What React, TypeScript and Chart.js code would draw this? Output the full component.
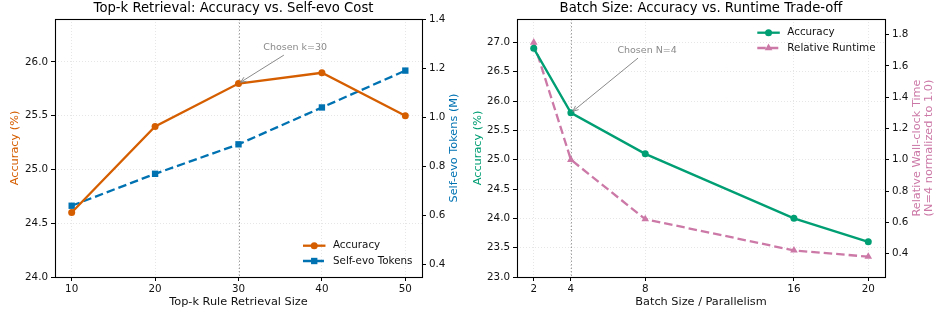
import React, { useEffect, useRef } from 'react';
import { Chart, registerables } from 'chart.js';

Chart.register(...registerables);

// ---------- data ----------
const topKSizes = [10, 20, 30, 40, 50];
const topKAccuracy = [24.6, 25.4, 25.8, 25.9, 25.5];
const topKTokens = [0.64, 0.77, 0.89, 1.04, 1.19];
const topKAccTicks = [24.0, 24.5, 25.0, 25.5, 26.0];
const topKTokenTicks = [0.4, 0.6, 0.8, 1.0, 1.2, 1.4];

const batchSizes = [2, 4, 8, 16, 20];
const batchAccuracy = [26.9, 25.8, 25.1, 24.0, 23.6];
const batchRuntime = [1.75, 1.0, 0.62, 0.42, 0.38];
const batchAccTicks = [23.0, 23.5, 24.0, 24.5, 25.0, 25.5, 26.0, 26.5, 27.0];
const batchRuntimeTicks = [0.4, 0.6, 0.8, 1.0, 1.2, 1.4, 1.6, 1.8];

const topKChosen = { x: 30, y: 25.8, textX: 36.8, textY: 26.13, text: 'Chosen k=30' };
const batchChosen = { x: 4, y: 25.8, textX: 8.1, textY: 26.86, text: 'Chosen N=4' };

// ---------- style ----------
const FONT = "'DejaVu Sans', sans-serif";
const TICK_SIZE = 10.35;
const LABEL_SIZE = 11.3;
const TITLE_SIZE = 13.2;
const GRID_COLOR = '#e0e0e0';

const ORANGE = '#D55E00';
const BLUE = '#0072B2';
const GREEN = '#009E73';
const PINK = '#CC79A7';

const LINE_W = 2.3;
const DASH = [8.5, 4];

type Spec = {
  title: string;
  xs: number[];
  xMin: number;
  xMax: number;
  xTitle: string;
  leftTitle: string;
  leftColor: string;
  leftMin: number;
  leftMax: number;
  leftTicks: number[];
  rightTitle: string[];
  rightColor: string;
  rightMin: number;
  rightMax: number;
  rightTicks: number[];
  series: { label: string; data: number[]; axis: 'yL' | 'yR'; color: string; dash: number[]; point: string; radius: number }[];
  chosen: { x: number; y: number; textX: number; textY: number; text: string };
  legendPos: 'lower right' | 'upper right';
  leftWidth: number;
  rightWidth: number;
  leftTitleOffset: number;
  rightTitleOffsets: number[];
};

function drawMarker(ctx: CanvasRenderingContext2D, style: string, x: number, y: number, r: number, color: string) {
  ctx.save();
  ctx.fillStyle = color;
  ctx.strokeStyle = color;
  ctx.setLineDash([]);
  ctx.beginPath();
  if (style === 'rect') {
    const s = Math.SQRT1_2 * r;
    ctx.rect(x - s, y - s, 2 * s, 2 * s);
  } else if (style === 'triangle') {
    ctx.moveTo(x, y - r);
    ctx.lineTo(x + r * 0.866, y + r * 0.5);
    ctx.lineTo(x - r * 0.866, y + r * 0.5);
    ctx.closePath();
  } else {
    ctx.arc(x, y, r, 0, Math.PI * 2);
  }
  ctx.fill();
  ctx.restore();
}

function makePlugin(spec: Spec) {
  return {
    id: 'decor',
    beforeDatasetsDraw(chart: any) {
      const { ctx, chartArea } = chart;
      const xs = chart.scales.x;
      const vx = xs.getPixelForValue(spec.chosen.x);
      ctx.save();
      ctx.strokeStyle = 'rgba(128,128,128,0.75)';
      ctx.lineWidth = 1;
      ctx.setLineDash([1.5, 2]);
      ctx.beginPath();
      ctx.moveTo(Math.round(vx) + 0.5, chartArea.top);
      ctx.lineTo(Math.round(vx) + 0.5, chartArea.bottom);
      ctx.stroke();
      ctx.restore();
    },
    afterDatasetsDraw(chart: any) {
      const { ctx, chartArea } = chart;
      const xs = chart.scales.x;
      const yl = chart.scales.yL;
      // frame
      ctx.save();
      ctx.strokeStyle = '#000';
      ctx.lineWidth = 1.1;
      ctx.setLineDash([]);
      ctx.strokeRect(Math.round(chartArea.left) + 0.5, Math.round(chartArea.top) + 0.5,
        Math.round(chartArea.right) - Math.round(chartArea.left), Math.round(chartArea.bottom) - Math.round(chartArea.top));
      ctx.restore();

      // annotation
      const px = xs.getPixelForValue(spec.chosen.x);
      const py = yl.getPixelForValue(spec.chosen.y);
      const tx = xs.getPixelForValue(spec.chosen.textX);
      const ty = yl.getPixelForValue(spec.chosen.textY);
      ctx.save();
      ctx.font = `9.5px ${FONT}`;
      ctx.fillStyle = '#8a8a8a';
      ctx.textAlign = 'center';
      ctx.textBaseline = 'middle';
      ctx.fillText(spec.chosen.text, tx, ty);
      const tw = ctx.measureText(spec.chosen.text).width;
      const hw = tw / 2 + 1;
      const hh = 5.5;
      let dx = px - tx, dy = py - ty;
      const len = Math.hypot(dx, dy);
      dx /= len; dy /= len;
      const tEdge = Math.min(Math.abs(dx) > 1e-6 ? hw / Math.abs(dx) : 1e9, Math.abs(dy) > 1e-6 ? hh / Math.abs(dy) : 1e9);
      const sx = tx + dx * (tEdge + 3), sy = ty + dy * (tEdge + 3);
      const ex = px - dx * 2.5, ey = py - dy * 2.5;
      ctx.strokeStyle = '#8a8a8a';
      ctx.lineWidth = 1;
      ctx.beginPath();
      ctx.moveTo(sx, sy);
      ctx.lineTo(ex, ey);
      const ang = Math.atan2(dy, dx);
      const hl = 6, ha = 0.42;
      ctx.moveTo(ex - hl * Math.cos(ang - ha), ey - hl * Math.sin(ang - ha));
      ctx.lineTo(ex, ey);
      ctx.lineTo(ex - hl * Math.cos(ang + ha), ey - hl * Math.sin(ang + ha));
      ctx.stroke();
      ctx.restore();

      // legend
      ctx.save();
      ctx.font = `${TICK_SIZE}px ${FONT}`;
      ctx.textBaseline = 'middle';
      ctx.textAlign = 'left';
      const maxW = Math.max(...spec.series.map((s) => ctx.measureText(s.label).width));
      const textX = chartArea.right - 9.5 - maxW;
      const lineX1 = textX - 7.5;
      const lineX0 = lineX1 - 22.5;
      const rowH = 15.3;
      const firstY = spec.legendPos === 'lower right'
        ? chartArea.bottom - 16 - rowH * (spec.series.length - 1)
        : chartArea.top + 13.7;
      spec.series.forEach((s, i) => {
        const y = firstY + i * rowH;
        ctx.strokeStyle = s.color;
        ctx.lineWidth = LINE_W;
        ctx.setLineDash(s.dash);
        ctx.beginPath();
        ctx.moveTo(lineX0, y);
        ctx.lineTo(lineX1, y);
        ctx.stroke();
        drawMarker(ctx, s.point, (lineX0 + lineX1) / 2, y, s.radius, s.color);
        ctx.fillStyle = '#111';
        ctx.fillText(s.label, textX, y);
      });
      ctx.restore();

      // axis titles
      ctx.save();
      ctx.textAlign = 'center';
      ctx.textBaseline = 'middle';
      ctx.font = `${LABEL_SIZE}px ${FONT}`;
      ctx.fillStyle = '#111';
      ctx.fillText(spec.xTitle, (chartArea.left + chartArea.right) / 2, chartArea.bottom + 25.5);
      const cy = (chartArea.top + chartArea.bottom) / 2;
      ctx.save();
      ctx.translate(chartArea.left - spec.leftTitleOffset, cy);
      ctx.rotate(-Math.PI / 2);
      ctx.fillStyle = spec.leftColor;
      ctx.fillText(spec.leftTitle, 0, 0);
      ctx.restore();
      spec.rightTitle.forEach((line, i) => {
        ctx.save();
        ctx.translate(chartArea.right + spec.rightTitleOffsets[i], cy);
        ctx.rotate(-Math.PI / 2);
        ctx.fillStyle = spec.rightColor;
        ctx.fillText(line, 0, 0);
        ctx.restore();
      });
      ctx.restore();
    },
  };
}

function makeConfig(spec: Spec): any {
  const tickFont = { family: FONT, size: TICK_SIZE };
  return {
    type: 'line',
    data: {
      datasets: spec.series.map((s) => ({
        label: s.label,
        data: spec.xs.map((x, i) => ({ x, y: s.data[i] })),
        yAxisID: s.axis,
        borderColor: s.color,
        backgroundColor: s.color,
        borderWidth: LINE_W,
        borderDash: s.dash,
        pointStyle: s.point,
        pointRadius: s.radius,
        pointBorderWidth: 0,
        pointBackgroundColor: s.color,
        tension: 0,
        fill: false,
      })),
    },
    options: {
      responsive: false,
      animation: false,
      devicePixelRatio: 1,
      layout: { padding: 0 },
      plugins: {
        legend: { display: false },
        tooltip: { enabled: false },
        title: {
          display: true,
          text: spec.title,
          color: '#000',
          font: { family: FONT, size: TITLE_SIZE, weight: 'normal', lineHeight: 1.2 },
          padding: { top: 0.6, bottom: 2.56 },
        },
      },
      scales: {
        x: {
          type: 'linear',
          min: spec.xMin,
          max: spec.xMax,
          afterBuildTicks: (s: any) => { s.ticks = spec.xs.map((v) => ({ value: v })); },
          afterFit: (s: any) => { s.height = 36; },
          ticks: { font: tickFont, color: '#111', padding: 2, maxRotation: 0, autoSkip: false, callback: (v: any) => String(v) },
          grid: { color: GRID_COLOR, lineWidth: 0.8, tickLength: 4, tickColor: '#000', tickWidth: 1 },
          border: { display: false, dash: [1, 2] },
        },
        yL: {
          type: 'linear',
          position: 'left',
          min: spec.leftMin,
          max: spec.leftMax,
          afterBuildTicks: (s: any) => { s.ticks = spec.leftTicks.map((v) => ({ value: v })); },
          afterFit: (s: any) => { s.width = spec.leftWidth; },
          ticks: { font: tickFont, color: '#111', padding: 3, autoSkip: false, callback: (v: any) => Number(v).toFixed(1) },
          grid: { color: GRID_COLOR, lineWidth: 0.8, tickLength: 4, tickColor: '#000', tickWidth: 1 },
          border: { display: false, dash: [1, 2] },
        },
        yR: {
          type: 'linear',
          position: 'right',
          min: spec.rightMin,
          max: spec.rightMax,
          afterBuildTicks: (s: any) => { s.ticks = spec.rightTicks.map((v) => ({ value: v })); },
          afterFit: (s: any) => { s.width = spec.rightWidth; },
          ticks: { font: tickFont, color: '#111', padding: 3, autoSkip: false, callback: (v: any) => Number(v).toFixed(1) },
          grid: { drawOnChartArea: false, color: '#000', tickLength: 4, tickColor: '#000', tickWidth: 1 },
          border: { display: false },
        },
      },
    },
    plugins: [makePlugin(spec)],
  };
}

const leftSpec: Spec = {
  title: 'Top-k Retrieval: Accuracy vs. Self-evo Cost',
  xs: topKSizes,
  xMin: 8,
  xMax: 52,
  xTitle: 'Top-k Rule Retrieval Size',
  leftTitle: 'Accuracy (%)',
  leftColor: ORANGE,
  leftMin: 24.0,
  leftMax: 26.4,
  leftTicks: topKAccTicks,
  rightTitle: ['Self-evo Tokens (M)'],
  rightColor: BLUE,
  rightMin: 0.35,
  rightMax: 1.4,
  rightTicks: topKTokenTicks,
  series: [
    { label: 'Accuracy', data: topKAccuracy, axis: 'yL', color: ORANGE, dash: [], point: 'circle', radius: 3.5 },
    { label: 'Self-evo Tokens', data: topKTokens, axis: 'yR', color: BLUE, dash: DASH, point: 'rect', radius: 4.5 },
  ],
  chosen: topKChosen,
  legendPos: 'lower right',
  leftWidth: 55,
  rightWidth: 45,
  leftTitleOffset: 40,
  rightTitleOffsets: [32],
};

const rightSpec: Spec = {
  title: 'Batch Size: Accuracy vs. Runtime Trade-off',
  xs: batchSizes,
  xMin: 1.1,
  xMax: 20.9,
  xTitle: 'Batch Size / Parallelism',
  leftTitle: 'Accuracy (%)',
  leftColor: GREEN,
  leftMin: 23.0,
  leftMax: 27.4,
  leftTicks: batchAccTicks,
  rightTitle: ['Relative Wall-clock Time', '(N=4 normalized to 1.0)'],
  rightColor: PINK,
  rightMin: 0.25,
  rightMax: 1.9,
  rightTicks: batchRuntimeTicks,
  series: [
    { label: 'Accuracy', data: batchAccuracy, axis: 'yL', color: GREEN, dash: [], point: 'circle', radius: 3.5 },
    { label: 'Relative Runtime', data: batchRuntime, axis: 'yR', color: PINK, dash: DASH, point: 'triangle', radius: 4.4 },
  ],
  chosen: batchChosen,
  legendPos: 'upper right',
  leftWidth: 50,
  rightWidth: 50,
  leftTitleOffset: 39,
  rightTitleOffsets: [31.7, 44],
};

function ChartPanel({ spec, left, width }: { spec: Spec; left: number; width: number }) {
  const ref = useRef<HTMLCanvasElement | null>(null);
  useEffect(() => {
    if (!ref.current) return;
    const chart = new Chart(ref.current, makeConfig(spec));
    return () => chart.destroy();
  }, [spec]);
  return (
    <div style={{ position: 'absolute', left, top: 0, width, height: 313 }}>
      <canvas ref={ref} width={width} height={313} style={{ width, height: 313, display: 'block' }} />
    </div>
  );
}

export default function App() {
  return (
    <div style={{ position: 'fixed', left: 0, top: 0, width: 935, height: 313, background: '#fff', overflow: 'hidden' }}>
      <ChartPanel spec={leftSpec} left={0} width={467} />
      <ChartPanel spec={rightSpec} left={467} width={468} />
    </div>
  );
}
